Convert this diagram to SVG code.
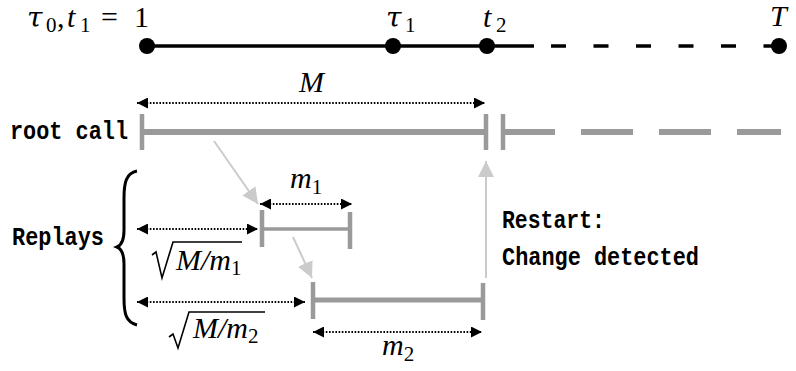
<svg xmlns="http://www.w3.org/2000/svg" width="796" height="371" viewBox="0 0 796 371">
<style>
.math{font-family:"Liberation Serif","DejaVu Serif",serif;font-size:30px;fill:#000}
.it{font-style:italic}
.tau{font-family:"DejaVu Serif","Liberation Serif",serif;font-style:italic;font-size:28px}
.sub{font-size:21px;font-style:normal}
.mono{font-family:"Liberation Mono","DejaVu Sans Mono",monospace;font-weight:bold;font-size:25px;fill:#000}
.bar{stroke:#9a9a9a;fill:none}
.dim{stroke:#000;stroke-width:2;stroke-dasharray:1.6 1.6;fill:none;marker-start:url(#ah);marker-end:url(#ah)}
.flow{stroke:#cbcbcb;stroke-width:2;fill:none;marker-end:url(#gh)}
.rad{stroke:#000;stroke-width:1.6;fill:none;stroke-linejoin:miter}
</style>
<defs>
<marker id="ah" viewBox="0 0 10 10" refX="10" refY="5" markerWidth="6" markerHeight="5.5" markerUnits="strokeWidth" orient="auto-start-reverse">
<path d="M0,0 L10,5 L0,10 Z" fill="#000"/>
</marker>
<marker id="gh" viewBox="0 0 10 10" refX="10" refY="5" markerWidth="8" markerHeight="9" markerUnits="strokeWidth" orient="auto">
<path d="M0,0 L10,5 L0,10 Z" fill="#cbcbcb"/>
</marker>
</defs>

<g id="timeline">
<line x1="147" y1="46" x2="534" y2="46" stroke="#000" stroke-width="3.5"/>
<line x1="551" y1="46" x2="779" y2="46" stroke="#000" stroke-width="3.5" stroke-dasharray="15 27.5"/>
<circle cx="147" cy="46" r="8"/>
<circle cx="393" cy="46" r="8"/>
<circle cx="487" cy="46" r="8"/>
<circle cx="779" cy="46" r="8"/>
<text class="math"><tspan class="tau" x="27" y="27">τ</tspan><tspan class="sub" x="46" y="32">0</tspan><tspan x="57" y="27">,</tspan><tspan class="it" x="67" y="27">t</tspan><tspan class="sub" x="80" y="32">1</tspan><tspan x="101" y="27">=</tspan><tspan x="134" y="27">1</tspan></text>
<text class="math"><tspan class="tau" x="386" y="27">τ</tspan><tspan class="sub" x="405" y="32">1</tspan></text>
<text class="math"><tspan class="it" x="483" y="27">t</tspan><tspan class="sub" x="496" y="32">2</tspan></text>
<text class="math it" x="770" y="26">T</text>
</g>

<g id="root-call">
<text class="mono" x="10" y="139" textLength="118" lengthAdjust="spacingAndGlyphs">root call</text>
<line class="bar" x1="142" y1="132" x2="486" y2="132" stroke-width="6"/>
<line class="bar" x1="142" y1="114" x2="142" y2="150" stroke-width="4.5"/>
<line class="bar" x1="486" y1="114" x2="486" y2="150" stroke-width="4.5"/>
<line class="bar" x1="503" y1="114" x2="503" y2="150" stroke-width="4.5"/>
<line class="bar" x1="503" y1="132" x2="555" y2="132" stroke-width="6"/>
<line class="bar" x1="581" y1="132" x2="781" y2="132" stroke-width="6" stroke-dasharray="52 26"/>
</g>

<g id="replays">
<text class="mono" x="12" y="245" textLength="92" lengthAdjust="spacingAndGlyphs">Replays</text>
<path d="M137,171 C126,173 124,183 124,198 L124,230 C124,240 122,245 117,247 C122,249 124,254 124,264 L124,298 C124,314 126,322 137,325" fill="none" stroke="#000" stroke-width="3"/>
</g>

<g id="replay1">
<line class="bar" x1="262" y1="229" x2="350" y2="229" stroke-width="3.5"/>
<line class="bar" x1="262" y1="210" x2="262" y2="247" stroke-width="4.5"/>
<line class="bar" x1="350" y1="212" x2="350" y2="249" stroke-width="4.5"/>
</g>

<g id="replay2">
<line class="bar" x1="313" y1="300" x2="483" y2="300" stroke-width="5"/>
<line class="bar" x1="313" y1="282" x2="313" y2="319" stroke-width="4.5"/>
<line class="bar" x1="483" y1="283" x2="483" y2="320" stroke-width="4.5"/>
</g>

<g id="restart-label">
<text class="mono" x="502" y="228" textLength="103" lengthAdjust="spacingAndGlyphs">Restart:</text>
<text class="mono" x="502" y="265" textLength="197" lengthAdjust="spacingAndGlyphs">Change detected</text>
</g>

<g id="connectors">
<line class="dim" x1="137" y1="103" x2="485" y2="103"/>
<text class="math it" x="299" y="92" font-size="33">M</text>
<line class="dim" x1="260" y1="204" x2="352" y2="204"/>
<text class="math" x="290" y="188"><tspan class="it">m</tspan><tspan class="sub" dy="6">1</tspan></text>
<line class="dim" x1="137" y1="229" x2="258" y2="229"/>
<path class="rad" d="M152,255 L156,252 L162,278 L173,242 L242,242"/>
<text class="math" x="176" y="270"><tspan class="it">M/m</tspan><tspan class="sub" dy="5">1</tspan></text>
<line class="dim" x1="137" y1="302" x2="305" y2="302"/>
<path class="rad" d="M169,337 L173,334 L178,348 L189,312 L265,312"/>
<text class="math" x="193" y="338"><tspan class="it">M/m</tspan><tspan class="sub" dy="5">2</tspan></text>
<line class="dim" x1="313" y1="332" x2="482" y2="332"/>
<text class="math" x="382" y="355"><tspan class="it">m</tspan><tspan class="sub" dy="6">2</tspan></text>
<line class="flow" x1="214" y1="141" x2="258" y2="204"/>
<line class="flow" x1="293" y1="237" x2="312" y2="278"/>
<line class="flow" x1="486" y1="278" x2="486" y2="161"/>
</g>
</svg>
